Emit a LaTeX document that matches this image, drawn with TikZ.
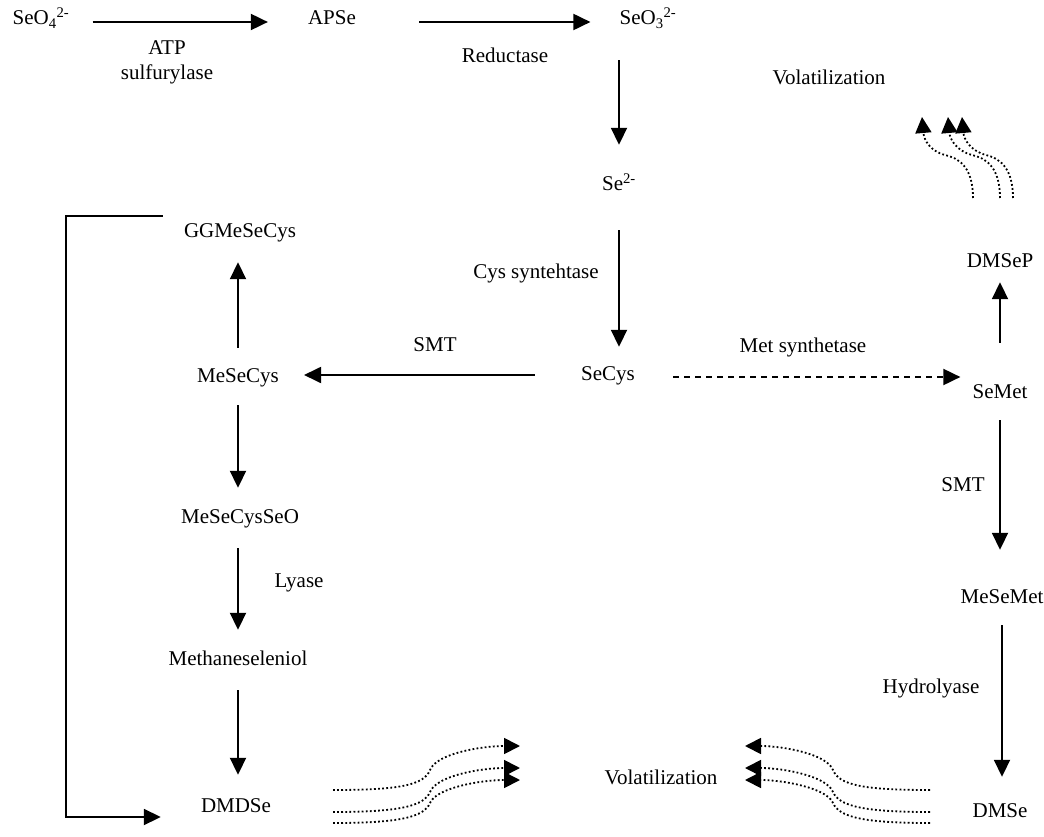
\documentclass[tikz,border=0pt]{standalone}
\usepackage{fontspec}
\setmainfont{Liberation Serif}
\usetikzlibrary{arrows.meta}
\begin{document}
\begin{tikzpicture}[x=1pt,y=-1pt,
  lbl/.style={inner sep=0pt,text height=14pt,text depth=4pt,font=\fontsize{21}{24}\selectfont},
  arr/.style={line width=1.9pt,-{Triangle[length=17pt,width=16pt]}},
  darr/.style={arr,dash pattern=on 6pt off 5pt},
  dots/.style={line width=1.8pt,dash pattern=on 1.8pt off 2.3pt,-{Triangle[length=16pt,width=16pt]}}]
\useasboundingbox (0,0) rectangle (1044,837);
% nodes
\node[lbl] (seo4) at (41,20) {SeO\textsubscript{4}\textsuperscript{2-}};
\node[lbl] (apse) at (332,20) {APSe};
\node[lbl] (seo3) at (648,20) {SeO\textsubscript{3}\textsuperscript{2-}};
\node[lbl] (se2) at (619,186) {Se\textsuperscript{2-}};
\node[lbl] (secys) at (608,375) {SeCys};
\node[lbl] (ggm) at (240,232) {GGMeSeCys};
\node[lbl] (mesecys) at (238,377) {MeSeCys};
\node[lbl] (mesecysseo) at (240,518) {MeSeCysSeO};
\node[lbl] (methsel) at (238,660) {Methaneseleniol};
\node[lbl] (dmdse) at (236,807) {DMDSe};
\node[lbl] (semet) at (1000,393) {SeMet};
\node[lbl] (dmsep) at (1000,262) {DMSeP};
\node[lbl] (mesemet) at (1002,598) {MeSeMet};
\node[lbl] (dmse) at (1000,812) {DMSe};
\node[lbl] (voltop) at (829,80) {Volatilization};
\node[lbl] (volbot) at (661,779) {Volatilization};
% edge labels
\node[lbl] (l1a) at (167,50) {ATP};
\node[lbl] (l1b) at (167,75) {sulfurylase};
\node[lbl] (l2) at (505,58) {Reductase};
\node[lbl] (l3) at (536,273) {Cys syntehtase};
\node[lbl] (l4) at (435,346) {SMT};
\node[lbl] (l5) at (803,347) {Met synthetase};
\node[lbl] (l6) at (299,582) {Lyase};
\node[lbl] (l7) at (963,486) {SMT};
\node[lbl] (l8) at (931,688) {Hydrolyase};
% arrows
\draw[arr,shorten <=23pt,shorten >=40pt] ([yshift=-2pt]seo4.east) -- ([yshift=-2pt]seo4.east -| apse.west);
\draw[arr,shorten <=63pt,shorten >=29pt] ([yshift=-2pt]apse.east) -- ([yshift=-2pt]apse.east -| seo3.west);
\draw[arr,shorten <=31pt,shorten >=32pt] (seo3.south -| se2.north) -- (se2.north);
\draw[arr,shorten <=35pt,shorten >=19pt] (se2.south) -- (se2.south |- secys.north);
\draw[arr,shorten <=46pt,shorten >=25pt] (secys.west) -- (secys.west -| mesecys.east);
\draw[arr,shorten <=20pt,shorten >=21pt] (mesecys.north) -- (mesecys.north |- ggm.south);
\draw[arr,shorten <=19pt,shorten >=21pt] (mesecys.south) -- (mesecys.south |- mesecysseo.north);
\draw[arr,shorten <=21pt,shorten >=21pt] (mesecysseo.south -| mesecys.south) -- (mesecys.south |- methsel.north);
\draw[arr,shorten <=21pt,shorten >=23pt] (methsel.south -| mesecys.south) -- (mesecys.south |- dmdse.north);
\draw[darr,shorten <=38pt,shorten >=12pt] ([yshift=-2pt]secys.east) -- ([yshift=-2pt]secys.east -| semet.west);
\draw[arr,shorten <=41pt,shorten >=11pt] (semet.north) -- (dmsep.south);
\draw[arr,shorten <=18pt,shorten >=39pt] (semet.south) -- (semet.south |- mesemet.north);
\draw[arr,shorten <=18pt,shorten >=26pt] (mesemet.south) -- (mesemet.south |- dmse.north);
% bracket
\draw[arr] ([xshift=-21pt,yshift=16pt]ggm.west) -- ++(-97,0) |- ([xshift=-40pt,yshift=-10pt]dmdse.west);
% volatilization dotted arrows (bottom left)
\draw[dots] (333,790) .. controls (400,790) and (424,785) .. (430,770) .. controls (436,754) and (480,746) .. (520,746);
\draw[dots] (333,812) .. controls (400,812) and (424,806) .. (430,792) .. controls (436,776) and (480,768) .. (520,768);
\draw[dots] (333,823) .. controls (400,823) and (424,817) .. (430,803) .. controls (436,788) and (480,780) .. (520,780);
% bottom right
\draw[dots] (930,790) .. controls (863,790) and (839,785) .. (833,770) .. controls (827,754) and (783,746) .. (745,746);
\draw[dots] (930,812) .. controls (863,812) and (839,806) .. (833,792) .. controls (827,776) and (783,768) .. (745,768);
\draw[dots] (930,823) .. controls (863,823) and (839,817) .. (833,803) .. controls (827,788) and (783,780) .. (745,780);
% top right
\draw[dots] (973,198) .. controls (973,166) and (958,158) .. (945,155) .. controls (930,151) and (924,140) .. (922,117);
\draw[dots] (1000,198) .. controls (1000,166) and (985,158) .. (972,155) .. controls (957,151) and (950,140) .. (948,117);
\draw[dots] (1013,198) .. controls (1013,166) and (998,158) .. (986,155) .. controls (971,151) and (964,140) .. (962,117);
\end{tikzpicture}
\end{document}
